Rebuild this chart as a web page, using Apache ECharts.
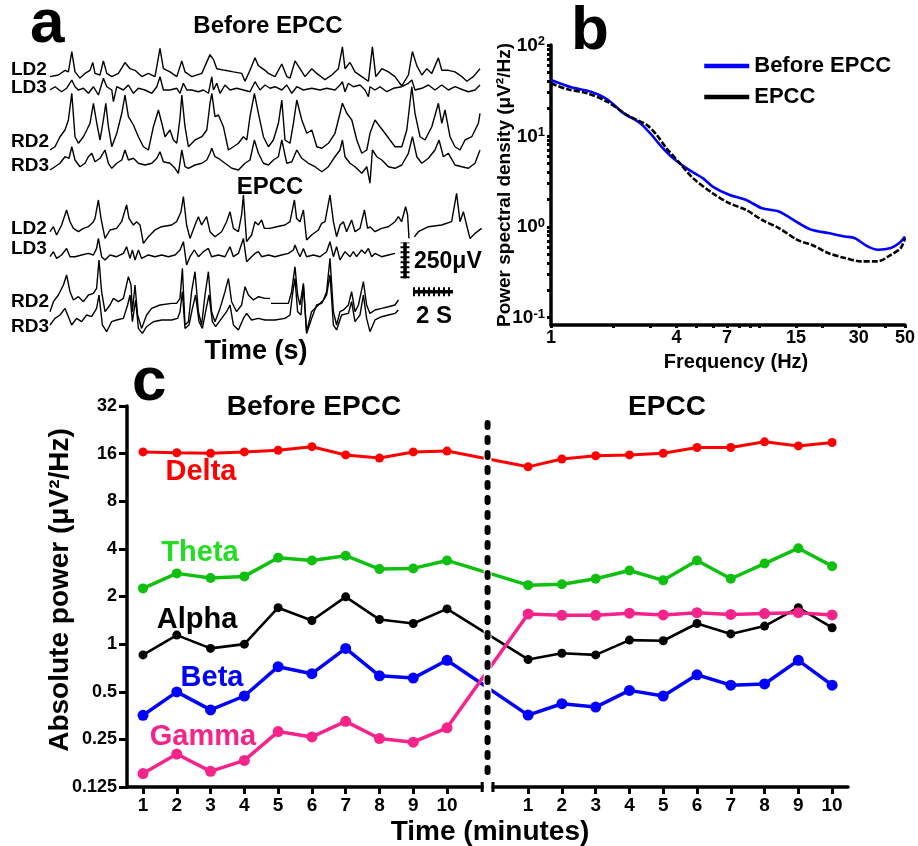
<!DOCTYPE html>
<html><head><meta charset="utf-8">
<script src="https://cdn.jsdelivr.net/npm/echarts@6/dist/echarts.min.js"></script>
<style>html,body{margin:0;padding:0;background:#fff}#c{width:918px;height:846px}</style>
</head><body><div id="c"></div>
<script>
// ================= DATA =================
// ---- Panel a: EEG traces, [time (s), amplitude (µV)]
const beforeLD2 = [[0,-12],[0.42,0],[0.75,35],[0.92,23],[1.09,175],[1.25,23],[1.5,-23],[1.75,12],[2,35],[2.14,93],[2.25,12],[2.5,0],[2.67,105],[2.84,12],[3.09,-12],[3.42,12],[3.75,93],[4,47],[4.25,35],[4.59,-12],[4.92,12],[5.25,-12],[5.5,198],[5.67,47],[6,23],[6.34,-12],[6.59,105],[6.75,23],[7.09,-12],[7.59,12],[8,152],[8.17,117],[8.34,47],[8.75,35],[9.17,23],[9.59,12],[9.75,-47],[10,35],[10.25,128],[10.42,70],[10.75,35],[10.92,12],[11.25,-12],[11.59,82],[11.84,-12],[12,-23],[12.25,105],[12.5,47],[12.75,-12],[13.09,47],[13.34,12],[13.75,-35],[14.09,0],[14.42,47],[14.62,210],[14.75,47],[15,93],[15.25,23],[15.59,-12],[15.92,-47],[16.12,210],[16.29,-12],[16.59,47],[16.92,23],[17.25,-12],[17.59,-82],[17.92,0],[18.12,175],[18.34,70],[18.59,0],[18.84,47],[19.09,12],[19.42,128],[19.59,35],[19.92,35],[20.25,23],[20.59,-12],[20.84,-47],[21.17,-12],[21.5,47]];
const beforeLD3 = [[0,0],[0.25,23],[0.58,-12],[0.83,12],[1.09,70],[1.25,23],[1.42,0],[1.67,12],[1.92,-23],[2.17,23],[2.42,-35],[2.67,82],[2.84,23],[3.09,0],[3.17,-82],[3.34,23],[3.67,0],[3.92,35],[4.17,-23],[4.42,12],[4.75,0],[5.09,-23],[5.34,23],[5.5,93],[5.67,0],[6,0],[6.34,12],[6.5,-23],[6.67,47],[6.84,0],[7.09,0],[7.42,-12],[7.67,0],[7.92,-23],[8.09,93],[8.17,0],[8.34,47],[8.5,-23],[8.75,35],[9,0],[9.34,12],[9.67,0],[10,-12],[10.25,58],[10.5,0],[10.75,35],[11,12],[11.25,23],[11.59,0],[11.84,35],[12.09,-23],[12.34,23],[12.67,0],[13.09,12],[13.5,0],[13.84,12],[14.25,0],[14.5,35],[14.62,58],[14.75,-12],[14.92,47],[15.17,23],[15.5,35],[15.75,0],[15.92,-47],[16,23],[16.25,0],[16.5,23],[16.84,-12],[17.17,12],[17.59,23],[17.92,47],[18.09,70],[18.25,0],[18.59,12],[18.92,35],[19.25,0],[19.59,35],[19.92,0],[20.25,23],[20.67,0],[20.92,-12],[21.25,0],[21.5,35]];
const beforeRD2 = [[0,-49],[0.25,-26],[0.5,44],[0.75,91],[0.92,161],[1.09,348],[1.25,44],[1.42,-2],[1.67,44],[1.84,91],[2,138],[2.17,278],[2.34,138],[2.5,21],[2.67,161],[2.79,278],[2.92,114],[3.09,-26],[3.34,68],[3.59,208],[3.75,336],[3.92,184],[4.17,126],[4.42,44],[4.67,-26],[4.92,-49],[5.17,114],[5.42,231],[5.59,138],[5.75,44],[6,91],[6.17,21],[6.34,-2],[6.5,173],[6.59,336],[6.75,114],[6.92,-26],[7.25,21],[7.59,44],[7.84,91],[8,278],[8.09,348],[8.25,184],[8.42,196],[8.67,114],[8.92,-49],[9.17,-26],[9.42,-2],[9.67,44],[9.84,21],[10,184],[10.22,348],[10.42,208],[10.67,44],[10.92,-26],[11.17,21],[11.42,138],[11.59,301],[11.75,21],[12,-2],[12.17,138],[12.34,301],[12.59,161],[12.84,68],[13.09,91],[13.34,-26],[13.59,-37],[13.92,-2],[14.25,68],[14.5,208],[14.62,278],[14.84,208],[15.09,161],[15.34,21],[15.59,-72],[15.84,-49],[16,68],[16.12,114],[16.25,161],[16.5,114],[16.75,68],[17,21],[17.25,-26],[17.59,-26],[17.84,91],[18.09,394],[18.25,208],[18.5,44],[18.75,21],[19.09,114],[19.42,278],[19.59,138],[19.75,231],[20,44],[20.25,-26],[20.5,-49],[20.75,21],[21.09,44],[21.42,138],[21.5,208]];
const beforeRD3 = [[0,-35],[0.25,-12],[0.5,12],[0.75,58],[0.95,47],[1.09,128],[1.25,35],[1.5,-12],[1.75,12],[1.92,58],[2.09,82],[2.25,23],[2.5,47],[2.75,105],[2.92,12],[3.09,-23],[3.34,12],[3.59,35],[3.75,105],[3.92,35],[4.17,47],[4.42,12],[4.75,0],[5.09,12],[5.34,47],[5.5,93],[5.67,23],[6,12],[6.25,-23],[6.42,-58],[6.59,105],[6.75,-12],[6.92,-23],[7.25,0],[7.59,12],[7.84,35],[8,82],[8.09,117],[8.25,58],[8.42,47],[8.75,12],[9.09,-23],[9.42,-35],[9.75,12],[10,35],[10.22,175],[10.42,82],[10.67,12],[10.92,0],[11.17,35],[11.42,58],[11.59,175],[11.84,12],[12.09,23],[12.34,105],[12.59,47],[12.92,12],[13.25,-12],[13.59,-47],[13.92,-12],[14.25,58],[14.5,105],[14.62,175],[14.75,58],[15,12],[15.25,-12],[15.59,-58],[15.84,-12],[16,-128],[16.12,105],[16.34,58],[16.59,35],[16.92,-12],[17.25,-23],[17.59,0],[17.92,82],[18.12,198],[18.34,58],[18.59,12],[18.92,47],[19.25,105],[19.45,175],[19.67,58],[19.92,82],[20.25,0],[20.59,-12],[20.92,-23],[21.25,12],[21.5,105]];
const epccLD2 = [[0,0],[0.17,35],[0.33,-23],[0.58,47],[0.83,152],[1,70],[1.17,23],[1.42,0],[1.67,23],[1.92,35],[2.17,70],[2.25,93],[2.42,222],[2.55,93],[2.75,-47],[3,12],[3.33,23],[3.58,70],[3.83,187],[3.95,93],[4.05,105],[4.17,47],[4.33,70],[4.5,47],[4.67,-82],[4.92,-35],[5.25,12],[5.58,35],[6.08,47],[6.33,70],[6.55,140],[6.67,245],[6.83,47],[7,-47],[7.25,47],[7.42,105],[7.58,47],[7.83,105],[8,0],[8.25,-35],[8.58,0],[8.83,70],[9,140],[9.17,23],[9.42,0],[9.58,117],[9.67,257],[9.83,-70],[10.08,-23],[10.25,70],[10.42,47],[10.58,82],[10.72,23],[11,23],[11.33,35],[11.75,47],[12,70],[12.22,222],[12.33,93],[12.5,70],[12.67,152],[12.83,-58],[13.08,-23],[13.42,12],[13.58,58],[13.75,70],[14,257],[14.17,70],[14.33,-35],[14.5,47],[14.67,70],[14.83,0],[15.08,82],[15.25,0],[15.5,23],[15.72,152],[15.88,23],[16,35],[16.25,0],[16.58,23],[16.92,35],[17.25,70],[17.42,105],[17.58,70],[17.78,175],[17.88,117],[17.95,-47]];
const epccLD2Tail = [[18.22,-35],[18.42,0],[18.92,35],[19.58,47],[20.08,70],[20.33,268],[20.5,70],[20.67,140],[20.83,47],[21,-47],[21.25,-12],[21.58,23]];
const epccLD3 = [[0,0],[0.17,35],[0.33,-12],[0.58,12],[0.83,58],[1,0],[1.25,0],[1.58,12],[1.92,23],[2.17,12],[2.33,58],[2.42,128],[2.58,0],[2.75,-23],[3,12],[3.33,0],[3.67,23],[3.83,70],[4,-12],[4.12,47],[4.25,-23],[4.42,47],[4.58,-12],[4.92,12],[5.25,0],[5.58,12],[5.92,0],[6.25,12],[6.5,47],[6.67,105],[6.83,-58],[7,0],[7.22,47],[7.42,0],[7.67,35],[7.92,58],[8.08,0],[8.42,12],[8.75,0],[9,70],[9.17,0],[9.42,23],[9.67,128],[9.83,-35],[10.08,0],[10.25,23],[10.42,35],[10.58,0],[10.92,12],[11.25,0],[11.58,12],[11.92,23],[12.17,47],[12.25,82],[12.38,35],[12.5,0],[12.67,58],[12.83,0],[13.17,12],[13.5,0],[13.83,35],[14,105],[14.17,0],[14.33,70],[14.5,-23],[14.75,35],[15,0],[15.17,35],[15.33,0],[15.58,47],[15.75,23],[15.92,58],[16.08,0],[16.25,23],[16.58,0],[16.92,12],[17.25,23]];
const epccRD2 = [[0,-70],[0.17,0],[0.42,47],[0.67,117],[0.83,187],[1,70],[1.17,12],[1.42,35],[1.67,0],[1.92,47],[2.17,58],[2.33,93],[2.45,292],[2.58,70],[2.75,-70],[3,-23],[3.17,23],[3.42,0],[3.67,23],[3.92,175],[4.05,117],[4.12,-70],[4.25,117],[4.38,-93],[4.58,-187],[4.83,-93],[5.08,-47],[5.5,-23],[6.08,-12],[6.33,-12],[6.5,23],[6.62,233],[6.75,-163],[6.92,-140],[7.08,70],[7.25,210],[7.42,-70],[7.58,-163],[7.75,47],[7.92,210],[8.08,-70],[8.25,-140],[8.5,-47],[8.75,70],[8.92,163],[9.08,0],[9.33,-70],[9.58,-23],[9.75,105],[9.92,47],[10.17,12],[10.42,35],[10.75,23],[11,23]];
const epccRD2Tail = [[11.05,-12],[11.92,-12],[12.08,70],[12.25,245],[12.38,47],[12.5,-23],[12.67,128],[12.83,-210],[13.08,-70],[13.42,-23],[13.67,12],[13.83,70],[14,303],[14.17,-70],[14.33,-163],[14.5,-70],[14.67,-58],[14.92,-23],[15.08,70],[15.25,-70],[15.42,-23],[15.67,140],[15.83,-23],[16,-82],[16.25,-58],[16.58,-47],[16.92,-35],[17.25,-23],[17.42,12]];
const epccRD3 = [[0,-23],[0.25,23],[0.5,47],[0.75,93],[0.92,35],[1.08,-23],[1.33,23],[1.58,0],[1.83,47],[2.08,35],[2.33,93],[2.45,187],[2.62,-23],[2.83,-70],[3.08,0],[3.33,12],[3.67,23],[3.88,117],[4,187],[4.12,0],[4.28,152],[4.42,-47],[4.62,-82],[4.83,-35],[5.17,0],[5.58,12],[6.08,12],[6.38,23],[6.5,70],[6.62,210],[6.75,-47],[6.95,-23],[7.12,93],[7.28,187],[7.45,0],[7.62,-47],[7.78,70],[7.95,187],[8.12,0],[8.28,-35],[8.58,23],[8.83,70],[9,117],[9.17,-23],[9.42,-58],[9.67,23],[9.83,58],[10.08,12],[10.42,23],[10.75,12],[11.25,12],[11.75,23],[12,47],[12.12,187],[12.25,303],[12.38,70],[12.55,47],[12.67,257],[12.83,-82],[13.08,23],[13.33,117],[13.58,128],[13.83,187],[14,327],[14.17,-23],[14.33,-58],[14.58,47],[14.92,58],[15.08,140],[15.25,0],[15.5,47],[15.67,187],[15.83,23],[16,-70],[16.25,12],[16.58,35],[16.92,47],[17.25,58],[17.42,82]];
const traceLabels = ['LD2','LD3','RD2','RD3'];
const scaleBarAmplitude = 250; // µV
const scaleBarDuration = 2;    // s

// ---- Panel b: power spectral density, [frequency (Hz), PSD (µV²/Hz)]
const psdBefore = [[1,41.2],[1.25,34.3],[1.55,30.7],[1.86,25.3],[2.23,17.8],[2.68,13.8],[2.99,10.7],[3.39,7.63],[3.85,5.69],[4.46,4.42],[5.35,3.43],[5.97,2.77],[7.16,2.25],[8.6,1.98],[10.3,1.6],[12.4,1.47],[15.4,1.1],[17.8,0.927],[21.4,0.853],[25.7,0.782],[28.6,0.751],[33.1,0.608],[37,0.559],[42.8,0.583],[46.9,0.662],[50,0.782]];
const psdEPCC = [[1,37.9],[1.2,32.6],[1.49,29.5],[1.86,23.8],[2.31,17.0],[2.88,13.2],[3.21,10.3],[3.58,7.33],[4.15,5.01],[4.8,3.43],[5.97,2.34],[7.16,1.82],[8.6,1.54],[10.3,1.19],[12.4,0.968],[15.4,0.707],[17.8,0.634],[21.4,0.514],[25.7,0.453],[30.8,0.416],[37,0.416],[42.8,0.492],[47.7,0.583],[50,0.751]];
const freqTickLabels = [1,4,7,15,30,50];
const freqMinorTicks = [1,2,3,4,5,6,7,8,9,10,15,20,30,40,50];
const psdTickLabels = [0.1,1,10,100];

// ---- Panel c: absolute band power (µV²/Hz) per minute
const minuteLabels = [1,2,3,4,5,6,7,8,9,10];
const powerTicks = [0.125,0.25,0.5,1,2,4,8,16,32];
const deltaBefore = [16.4,16.2,16.1,16.4,16.8,17.7,15.7,15.0,16.4,16.6];
const deltaEPCC   = [13.2,14.8,15.5,15.7,16.1,17.5,17.5,19.0,17.9,18.8];
const thetaBefore = [2.25,2.8,2.62,2.68,3.52,3.38,3.62,2.98,3.01,3.38];
const thetaEPCC   = [2.36,2.39,2.59,2.92,2.53,3.38,2.59,3.23,4.04,3.11];
const alphaBefore = [0.855,1.14,0.94,1.0,1.70,1.41,1.99,1.43,1.35,1.67];
const alphaEPCC   = [0.80,0.875,0.855,1.06,1.05,1.35,1.16,1.30,1.70,1.27];
const betaBefore  = [0.355,0.499,0.384,0.47,0.72,0.65,0.94,0.63,0.61,0.79];
const betaEPCC    = [0.356,0.42,0.40,0.51,0.47,0.64,0.55,0.56,0.79,0.55];
const gammaBefore = [0.152,0.202,0.157,0.184,0.28,0.259,0.325,0.253,0.24,0.296];
const gammaEPCC   = [1.55,1.52,1.52,1.57,1.53,1.58,1.54,1.56,1.58,1.53];

// ================= LAYOUT / STYLE =================
const FONT = '"Liberation Sans", Arial, Helvetica, sans-serif';
const chart = echarts.init(document.getElementById('c'), null, {renderer:'canvas'});

const A_LEFT = 50, A_W = 432, A_TMAX = 21.6, A_HALF = 80, UV_PX = 7;
const traces = [
  {d: beforeLD2, base: 70}, {d: beforeLD3, base: 90}, {d: beforeRD2, base: 143}, {d: beforeRD3, base: 165},
  {d: epccLD2, base: 231.7, tail: epccLD2Tail}, {d: epccLD3, base: 256.7},
  {d: epccRD2, base: 301.7, tail: epccRD2Tail}, {d: epccRD3, base: 321.7}
];
const grids = [], xAxes = [], yAxes = [], series = [];
function hiddenAxes(gi, xmin, xmax, ymin, ymax) {
  xAxes.push({gridIndex: gi, type: 'value', min: xmin, max: xmax, show: false});
  yAxes.push({gridIndex: gi, type: 'value', min: ymin, max: ymax, show: false});
}
traces.forEach((tr, i) => {
  grids.push({left: A_LEFT, width: A_W, top: tr.base - A_HALF, height: 2 * A_HALF});
  hiddenAxes(i, 0, A_TMAX, -A_HALF * UV_PX, A_HALF * UV_PX);
  const ls = {color: '#000', width: 1.4};
  series.push({type: 'line', xAxisIndex: i, yAxisIndex: i, data: tr.d, symbol: 'none', lineStyle: ls, clip: false, silent: true});
  if (tr.tail) series.push({type: 'line', xAxisIndex: i, yAxisIndex: i, data: tr.tail, symbol: 'none', lineStyle: ls, clip: false, silent: true});
});
// scale-bar grid (same time & amplitude scale)
const SG = traces.length;
grids.push({left: A_LEFT, width: A_W, top: 230, height: 80});
hiddenAxes(SG, 0, A_TMAX, 0, 80 * UV_PX);
const vBarT = 17.75, vBarV0 = 222, hBarT0 = 18.15, hBarV = 128;
const vBar = [[vBarT, vBarV0], [vBarT, vBarV0 + scaleBarAmplitude]];
const hBar = [[hBarT0, hBarV], [hBarT0 + scaleBarDuration, hBarV]];
[vBar, hBar].forEach(b => {
  series.push({type: 'line', xAxisIndex: SG, yAxisIndex: SG, data: b, symbol: 'none', lineStyle: {color: '#000', width: 3.5}, silent: true, clip: false});
  series.push({type: 'line', xAxisIndex: SG, yAxisIndex: SG, data: b, symbol: 'none', lineStyle: {color: '#000', width: 9, type: [2, 3]}, silent: true, clip: false});
});

// ---- Panel b grid
const GB = SG + 1;
grids.push({left: 551, top: 45, right: 10, bottom: 846 - 325});
xAxes.push({gridIndex: GB, type: 'log', logBase: 10, min: 1, max: 50,
  axisLine: {lineStyle: {color: '#000', width: 3.5}},
  axisTick: {customValues: freqMinorTicks, length: 3, lineStyle: {color: '#000', width: 3}},
  axisLabel: {customValues: freqTickLabels, color: '#000', fontFamily: FONT, fontWeight: 'bold', fontSize: 18, margin: 4},
  splitLine: {show: false}});
const psdMinor = [];
[0.1, 1, 10].forEach(d => { for (let k = 1; k < 10; k++) psdMinor.push(+(d * k).toPrecision(3)); });
psdMinor.push(100);
yAxes.push({gridIndex: GB, type: 'log', logBase: 10, min: 0.083, max: 100,
  axisLine: {lineStyle: {color: '#000', width: 3.5}},
  axisTick: {customValues: psdMinor, length: 4, lineStyle: {color: '#000', width: 3}},
  axisLabel: {customValues: psdTickLabels, margin: 6,
    formatter: v => '{b|10}{s|' + Math.round(Math.log10(v)) + '}',
    rich: {b: {fontFamily: FONT, fontWeight: 'bold', fontSize: 19, color: '#000', lineHeight: 20, verticalAlign: 'bottom'},
           s: {fontFamily: FONT, fontWeight: 'bold', fontSize: 13, color: '#000', lineHeight: 12, verticalAlign: 'top'}}},
  splitLine: {show: false}});
series.push({name: 'Before EPCC', type: 'line', xAxisIndex: GB, yAxisIndex: GB, data: psdBefore, symbol: 'none', smooth: 0.3,
  lineStyle: {color: '#0000ff', width: 2.6}, itemStyle: {color: '#0000ff'}, z: 3});
series.push({name: 'EPCC', type: 'line', xAxisIndex: GB, yAxisIndex: GB, data: psdEPCC, symbol: 'none', smooth: 0.3,
  lineStyle: {color: '#000', width: 2.6, type: [6, 2]}, itemStyle: {color: '#000'}, z: 4});

// ---- Panel c grid
const GC = GB + 1;
const GAP = 1.4;
const posBefore = minuteLabels.map(m => m);
const posEPCC = minuteLabels.map(m => 10 + GAP + m);
const C_XMIN = 0.526, C_XMAX = 21.87;
grids.push({left: 127, right: 918 - 848, top: 406, bottom: 846 - 787});
const posAll = posBefore.concat(posEPCC);
const posToLabel = v => String(v <= 10.5 ? Math.round(v) : Math.round(v - 10 - GAP));
xAxes.push({gridIndex: GC, type: 'value', min: C_XMIN, max: C_XMAX,
  axisLine: {show: true, onZero: false, lineStyle: {color: '#000', width: 3.5}},
  axisTick: {customValues: posAll, length: 7, lineStyle: {color: '#000', width: 3}},
  axisLabel: {customValues: posAll, formatter: posToLabel, color: '#000', fontFamily: FONT, fontWeight: 'bold', fontSize: 19, margin: 9},
  splitLine: {show: false}});
yAxes.push({gridIndex: GC, type: 'log', logBase: 2, min: 0.125, max: 32,
  axisLine: {lineStyle: {color: '#000', width: 3.5}},
  axisTick: {customValues: powerTicks, length: 8, lineStyle: {color: '#000', width: 3}},
  axisLabel: {customValues: powerTicks, formatter: v => String(+(+v).toPrecision(6)), color: '#000', fontFamily: FONT, fontWeight: 'bold', fontSize: 18, margin: 10},
  splitLine: {show: false}});
const bands = [
  {b: deltaBefore, e: deltaEPCC, color: '#ff0000', w: 3, s: 9},
  {b: thetaBefore, e: thetaEPCC, color: '#10c010', w: 3.5, s: 10},
  {b: alphaBefore, e: alphaEPCC, color: '#000000', w: 2.6, s: 9},
  {b: betaBefore,  e: betaEPCC,  color: '#0000ff', w: 3.5, s: 11},
  {b: gammaBefore, e: gammaEPCC, color: '#f5238a', w: 3.5, s: 11}
];
bands.forEach(bd => {
  const data = bd.b.map((v, i) => [posBefore[i], v]).concat(bd.e.map((v, i) => [posEPCC[i], v]));
  series.push({type: 'line', xAxisIndex: GC, yAxisIndex: GC, data, symbol: 'circle', symbolSize: bd.s,
    lineStyle: {color: bd.color, width: bd.w}, itemStyle: {color: bd.color}, silent: true, z: 3});
});

const option = {
  animation: false,
  backgroundColor: '#fff',
  grid: grids, xAxis: xAxes, yAxis: yAxes, series,
  legend: {data: ['Before EPCC', 'EPCC'], orient: 'vertical', left: 697, top: 50, itemWidth: 45, itemHeight: 14, itemGap: 9,
    selectedMode: false, lineStyle: {width: 4.5, type: 'solid'}, itemStyle: {opacity: 0},
    textStyle: {fontFamily: FONT, fontWeight: 'bold', fontSize: 22, color: '#000'}}
};
chart.setOption(option);

// ---- decorations and texts (positions from the coordinate systems where relevant)
const px = (v) => chart.convertToPixel({gridIndex: GC}, v);
const T = (text, x, y, size, o = {}) => ({type: 'text', x, y, rotation: o.rot || 0, z: 60,
  style: {text, x: 0, y: 0, font: `${o.weight || 'bold'} ${size}px ${o.family || FONT}`, fill: o.color || '#000',
    align: o.align || 'center', verticalAlign: o.va || 'middle', textAlign: o.align || 'center', textVerticalAlign: o.va || 'middle'}});
const g = [];
// panel letters
g.push(T('a', 30, 25, 62, {align: 'left'}), T('b', 571, 32, 62, {align: 'left'}), T('c', 132, 383, 62, {align: 'left'}));
// panel a texts
g.push(T('Before EPCC', 268, 26, 24), T('EPCC', 270, 187, 24), T('Time (s)', 256, 352, 27));
const labY = [70, 88, 142, 166, 229, 249, 302, 327];
labY.forEach((y, i) => g.push(T(traceLabels[i % 4], 11, y, 19, {align: 'left'})));
g.push(T('250\u03bcV', 414, 262, 23, {align: 'left'}), T('2 S', 434, 316, 24));
// panel b titles
g.push(T('Power spectral density (\u03bcV\u00b2/Hz)', 505, 185, 19, {rot: Math.PI / 2}));
g.push(T('Frequency (Hz)', 736, 362, 20));
// panel c titles
g.push(T('Before EPCC', 314, 407, 28), T('EPCC', 667, 407, 28));
g.push(T('Absolute power (\u03bcV\u00b2/Hz)', 60, 590, 28, {rot: Math.PI / 2}));
g.push(T('Time (minutes)', 490, 832, 28));
g.push(T('Delta', 201, 472, 29, {color: '#ff0000'}));
g.push(T('Theta', 200, 553, 29, {color: '#22dd22'}));
g.push(T('Alpha', 197, 620, 29, {color: '#000'}));
g.push(T('Beta', 212, 678, 29, {color: '#0000ff'}));
g.push(T('Gamma', 203, 737, 29, {color: '#f5238a'}));
// axis break + dashed separator
const pL = px([11.04, 0.125]), pR = px([11.36, 0.125]), pSep = px([11.2, 25]), pBot = px([11.2, 0.125]);
g.push({type: 'rect', z: 40, shape: {x: pL[0] + 1.5, y: pSep[1] - 4, width: pR[0] - pL[0] - 3, height: pBot[1] - pSep[1] + 10}, style: {fill: '#fff'}});
g.push({type: 'line', z: 41, shape: {x1: pL[0], y1: pL[1] - 5, x2: pL[0], y2: pL[1] + 5}, style: {stroke: '#000', lineWidth: 3}});
g.push({type: 'line', z: 41, shape: {x1: pR[0], y1: pR[1] - 5, x2: pR[0], y2: pR[1] + 5}, style: {stroke: '#000', lineWidth: 3}});
g.push({type: 'line', z: 42, shape: {x1: pSep[0], y1: pSep[1], x2: pBot[0], y2: pBot[1] - 8}, style: {stroke: '#000', lineWidth: 6, lineDash: [4, 11], lineCap: 'round'}});
chart.setOption({graphic: {elements: g}});
</script></body></html>
